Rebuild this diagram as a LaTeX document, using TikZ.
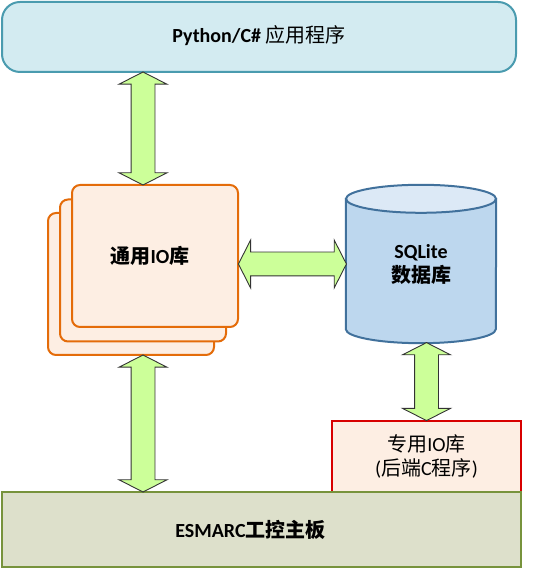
\documentclass[tikz,border=0pt]{standalone}
\usepackage{fontspec}
\setmainfont{Carlito}
\newfontfamily\cjk{Noto Sans CJK SC}
\newcommand{\zh}[1]{{\cjk #1}}
\usepackage{xcolor}
\usepackage{tikz}
\usetikzlibrary{shapes.arrows,positioning,calc,backgrounds}

\definecolor{appfill}{HTML}{D3EBF1}
\definecolor{appedge}{HTML}{4A9BAF}
\definecolor{libfill}{HTML}{FDEEE3}
\definecolor{libedge}{HTML}{E46C0A}
\definecolor{dbbody}{HTML}{BDD7EE}
\definecolor{dbtop}{HTML}{DCE9F6}
\definecolor{dbedge}{HTML}{41719C}
\definecolor{spedge}{HTML}{D80000}
\definecolor{brdfill}{HTML}{DDE0CB}
\definecolor{brdedge}{HTML}{77933C}
\definecolor{arrfill}{HTML}{CCFF99}

\begin{document}
\begin{tikzpicture}[
  x=1pt, y=1pt,
  every node/.style={font=\fontsize{20}{24}\selectfont},
  appbox/.style={draw=appedge, fill=appfill, line width=2pt, rounded corners=18pt, minimum width=514pt, minimum height=70pt},
  libbox/.style={draw=libedge, fill=libfill, line width=2pt, rounded corners=8pt, minimum width=166pt, minimum height=142pt},
  dbtext/.style={minimum width=150pt, minimum height=158pt, align=center},
  spbox/.style={draw=spedge, fill=libfill, line width=2pt, minimum width=189pt, minimum height=71pt, align=center},
  brdbox/.style={draw=brdedge, fill=brdfill, line width=2pt, minimum width=519pt, minimum height=75pt},
  biarrow/.style={double arrow, draw=black!80, fill=arrfill, line width=0.9pt, inner xsep=0pt, inner ysep=11.5pt,
    minimum width=0pt, double arrow head extend=12pt, double arrow tip angle=126},
]
\useasboundingbox (0,0) rectangle (554,569);
\node[appbox] (app) at (259,532) {\raisebox{6pt}{\textbf{Python/C\#} \zh{应用程序}}};
\node[libbox] (gio3) at (131,285) {};
\node[libbox] (gio2) at (143,298.5) {};
\node[libbox] (gio) at (155,313) {\raisebox{-2pt}{\bfseries\zh{通用}IO\zh{库}\hspace*{10pt}}};
\node[dbtext] (db) at (421,305) {\textbf{SQLite}\\\textbf{\zh{数据库}}};
\node[spbox] (spio) at (426.5,112.5) {\zh{专用}IO\zh{库}\\(\zh{后端}C\zh{程序})};
\node[brdbox] (board) at (261.5,39.5) {\bfseries ESMARC\zh{工控主板}\hspace*{22pt}};
\begin{scope}[on background layer]
\draw[dbedge, line width=2pt, fill=dbbody] ([yshift=-14pt]db.north west) -- ([yshift=14pt]db.south west)
  arc[start angle=180, end angle=360, x radius=75pt, y radius=14pt] -- ([yshift=-14pt]db.north east) -- cycle;
\draw[dbedge, line width=2pt, fill=dbtop] ([yshift=-14pt]db.north) ellipse[x radius=75pt, y radius=14pt];
\end{scope}
\path (app.south -| gio2) -- node[biarrow, rotate=90, minimum height=113pt] (a1) {} (gio.north -| gio2);
\path (gio3.south -| gio2) -- node[biarrow, rotate=90, minimum height=137pt] (a2) {} (board.north -| gio2);
\path (gio.east |- db.west) -- node[biarrow, minimum height=108pt] (a3) {} (db.west);
\path (db.south -| spio.north) -- node[biarrow, rotate=90, minimum height=78pt] (a4) {} (spio.north);
\end{tikzpicture}
\end{document}
